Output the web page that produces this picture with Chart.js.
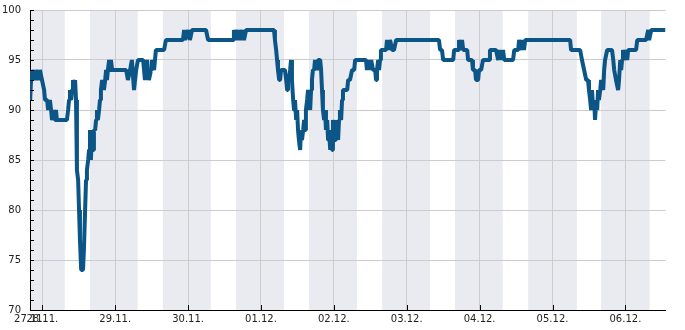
<!DOCTYPE html>
<html>
<head>
<meta charset="utf-8">
<script src="https://cdn.jsdelivr.net/npm/chart.js@4.4.1/dist/chart.umd.min.js"></script>
<style>
  html, body { margin: 0; padding: 0; background: #fff; }
  canvas { display: block; }
</style>
</head>
<body>
<canvas id="humidityChart" width="685" height="330"></canvas>
<script>
// hours since 28.11. 00:00
const hours = [
  -4.0, -3.7, -3.4, -2.7, -2.1, -1.4, -0.8, -0.1, 0.6, 0.9, 1.6, 1.9, 2.5, 2.9, 3.2, 3.9, 4.2, 4.5, 4.8, 5.8,
  7.2, 8.1, 8.5, 8.8, 9.1, 9.5, 9.8, 10.1, 10.4, 10.8, 11.1, 11.4, 11.8, 12.1, 12.4, 12.8, 13.4, 13.7, 14.1, 14.4,
  14.7, 15.1, 15.4, 15.7, 16.0, 16.4, 16.7, 17.0, 17.4, 17.7, 18.0, 18.3, 18.7, 19.0, 19.3, 19.7, 20.3, 20.7, 21.0, 21.3,
  21.6, 22.0, 22.3, 22.6, 23.0, 23.9, 25.6, 27.6, 28.2, 28.9, 29.5, 30.2, 30.9, 31.5, 32.2, 33.2, 33.8, 34.5, 35.1, 35.8,
  36.1, 36.8, 37.4, 38.1, 39.4, 40.1, 40.7, 42.1, 45.4, 46.3, 46.7, 47.0, 48.0, 48.6, 49.3, 51.9, 53.9, 54.6, 55.9, 58.5,
  62.8, 63.1, 63.8, 64.5, 65.1, 65.8, 66.4, 67.1, 70.1, 74.3, 76.3, 76.6, 77.0, 77.3, 77.6, 78.0, 78.3, 78.6, 79.9, 80.3,
  80.6, 80.9, 81.2, 81.6, 81.9, 82.2, 82.6, 82.9, 83.2, 83.6, 83.9, 84.2, 84.5, 84.9, 85.2, 85.5, 85.9, 86.2, 86.5, 86.8,
  87.2, 87.5, 87.8, 88.2, 88.5, 88.8, 89.1, 89.5, 89.8, 90.5, 90.8, 91.5, 91.8, 92.1, 92.4, 92.8, 93.1, 93.4, 93.8, 94.1,
  94.4, 94.8, 95.1, 95.4, 95.7, 96.1, 96.4, 96.7, 97.1, 97.4, 97.7, 98.0, 98.4, 98.7, 99.0, 99.7, 100.4, 100.7, 101.3, 102.0,
  102.7, 103.0, 104.6, 106.6, 106.9, 107.3, 107.9, 108.3, 108.9, 109.6, 109.9, 110.2, 110.6, 110.9, 111.2, 111.5, 112.5, 113.2, 113.5, 113.9,
  114.5, 115.2, 115.8, 116.5, 121.1, 126.0, 130.6, 131.0, 131.6, 132.0, 135.3, 135.6, 136.9, 137.2, 137.9, 138.2, 138.6, 139.9, 140.2, 141.5,
  141.8, 142.5, 142.8, 143.5, 143.8, 144.5, 145.1, 147.1, 147.4, 149.4, 150.1, 150.7, 151.1, 151.7, 152.1, 153.0, 155.0, 155.4, 156.7, 157.0,
  157.7, 158.0, 158.6, 159.0, 165.6, 170.5, 173.8, 174.1, 177.1, 177.7, 178.4, 179.1, 179.7, 180.0, 180.4, 180.7, 181.0, 181.4, 181.7, 182.0,
  182.4, 182.7, 183.0, 183.3, 183.7, 184.0, 184.7, 185.0, 185.3, 185.6, 186.0, 187.6, 188.0, 188.3, 188.9, 189.6, 189.9, 190.3, 190.6, 190.9,
  191.2, 191.9, 192.2, 192.6, 192.9, 194.2, 195.5, 195.9, 198.8, 199.5, 199.8, 200.5, 201.1, 205.2
];
const humidity = [
  91, 93, 94, 93, 94, 93, 94, 93, 92, 91, 91, 90, 91, 90, 89, 90, 89, 90, 89, 89,
  89, 89, 90, 91, 92, 91, 92, 93, 92, 93, 91, 84, 83, 80, 77, 74, 74, 76, 80, 83,
  84, 85, 86, 88, 85, 88, 86, 88, 88, 89, 90, 89, 90, 91, 92, 93, 92, 93, 94, 93,
  94, 95, 94, 95, 94, 94, 94, 94, 93, 94, 95, 92, 94, 95, 95, 95, 93, 95, 93, 94,
  95, 94, 96, 96, 96, 96, 97, 97, 97, 97, 98, 97, 98, 97, 98, 98, 98, 97, 97, 97,
  97, 98, 97, 98, 97, 98, 97, 98, 98, 98, 98, 97, 96, 95, 94, 93, 93, 94, 94, 93,
  92, 93, 93, 94, 95, 93, 91, 90, 91, 89, 90, 88, 87, 86, 88, 87, 88, 89, 88, 90,
  91, 92, 91, 90, 92, 93, 94, 94, 95, 94, 95, 95, 94, 92, 90, 89, 90, 88, 89, 87,
  88, 86, 88, 86, 89, 88, 87, 89, 88, 87, 89, 90, 89, 91, 92, 92, 92, 93, 93, 94,
  94, 95, 95, 95, 94, 95, 94, 95, 94, 94, 93, 94, 95, 94, 95, 96, 96, 96, 97, 96,
  97, 96, 96, 97, 97, 97, 97, 96, 96, 95, 95, 96, 96, 97, 96, 97, 96, 96, 95, 95,
  94, 94, 93, 93, 94, 94, 95, 95, 96, 96, 95, 96, 95, 96, 95, 95, 95, 96, 96, 97,
  96, 97, 96, 97, 97, 97, 97, 96, 96, 95, 94, 93, 93, 92, 91, 90, 92, 90, 91, 89,
  91, 90, 92, 91, 92, 93, 92, 94, 95, 95, 96, 96, 95, 94, 93, 92, 93, 95, 94, 95,
  96, 95, 96, 95, 96, 96, 96, 97, 97, 98, 97, 98, 98, 98
];

// x axis ticks: axis start, then each midnight
const tickHours = [-4.05, 0, 24, 48, 72, 96, 120, 144, 168, 192];
const tickLabels = ["27.11.", "28.11.", "29.11.", "30.11.", "01.12.", "02.12.", "03.12.", "04.12.", "05.12.", "06.12."];

// shaded (dark) periods
const nightStart = [-4.05, 15.7, 39.7, 63.8, 87.8, 111.9, 135.9, 160.0, 184.0];
const nightEnd = [7.4, 31.4, 55.5, 79.6, 103.6, 127.7, 151.6, 176.0, 200.0];

const xMin = -4.05;
const xMax = 205.2;
const yMin = 70;
const yMax = 100;

const lineColor = "#0b5587";
const bandColor = "#eaebf1";
const gridColor = "#cccccc";
const textColor = "#222222";

const nightBands = {
  id: "nightBands",
  beforeDraw(chart) {
    const { ctx, chartArea, scales } = chart;
    ctx.save();
    ctx.fillStyle = bandColor;
    nightStart.forEach((start, i) => {
      const left = Math.max(scales.x.getPixelForValue(start), chartArea.left);
      const right = Math.min(scales.x.getPixelForValue(nightEnd[i]), chartArea.right);
      if (right > left) {
        ctx.fillRect(left, chartArea.top, right - left, chartArea.bottom - chartArea.top);
      }
    });
    ctx.restore();
  },
};

// small tick marks inside the plot
const innerTicks = {
  id: "innerTicks",
  afterDraw(chart) {
    const { ctx, chartArea, scales } = chart;
    ctx.save();
    ctx.strokeStyle = "#000";
    ctx.lineWidth = 1;
    ctx.beginPath();
    for (let v = yMin; v <= yMax; v++) {
      const py = Math.round(scales.y.getPixelForValue(v)) + 0.5;
      ctx.moveTo(chartArea.left, py);
      ctx.lineTo(chartArea.left + 4, py);
    }
    scales.x.ticks.forEach((t) => {
      const px = Math.round(scales.x.getPixelForValue(t.value)) + 0.5;
      ctx.moveTo(px, chartArea.bottom);
      ctx.lineTo(px, chartArea.bottom - 5);
    });
    ctx.stroke();
    ctx.restore();
  },
};

const font = { family: "'DejaVu Sans', sans-serif", size: 10 };

new Chart(document.getElementById("humidityChart"), {
  type: "line",
  data: {
    datasets: [
      {
        data: hours.map((h, i) => ({ x: h, y: humidity[i] })),
        borderColor: lineColor,
        borderWidth: 4,
        borderJoinStyle: "bevel",
        borderCapStyle: "butt",
        pointRadius: 0,
        tension: 0,
        fill: false,
      },
    ],
  },
  options: {
    responsive: false,
    animation: false,
    layout: { padding: { top: 10, right: 19.5, left: 0, bottom: 0 } },
    plugins: {
      legend: { display: false },
      tooltip: { enabled: false },
    },
    scales: {
      x: {
        type: "linear",
        min: xMin,
        max: xMax,
        afterBuildTicks: (scale) => {
          scale.ticks = tickHours.map((v) => ({ value: v }));
        },
        afterFit: (scale) => {
          scale.height = 20;
          scale.paddingLeft = 0;
          scale.paddingRight = 0;
        },
        ticks: {
          autoSkip: false,
          maxRotation: 0,
          padding: 3,
          font: font,
          color: textColor,
          callback: (value, index) => tickLabels[index],
        },
        grid: { color: gridColor, drawTicks: false },
        border: { color: "#000", width: 1 },
      },
      y: {
        min: yMin,
        max: yMax,
        afterFit: (scale) => {
          scale.width = 30;
          scale.paddingTop = 0;
          scale.paddingBottom = 0;
        },
        ticks: {
          stepSize: 5,
          padding: 9,
          font: font,
          color: textColor,
        },
        grid: { color: gridColor, drawTicks: false },
        border: { color: "#000", width: 1 },
      },
    },
  },
  plugins: [nightBands, innerTicks],
});
</script>
</body>
</html>
